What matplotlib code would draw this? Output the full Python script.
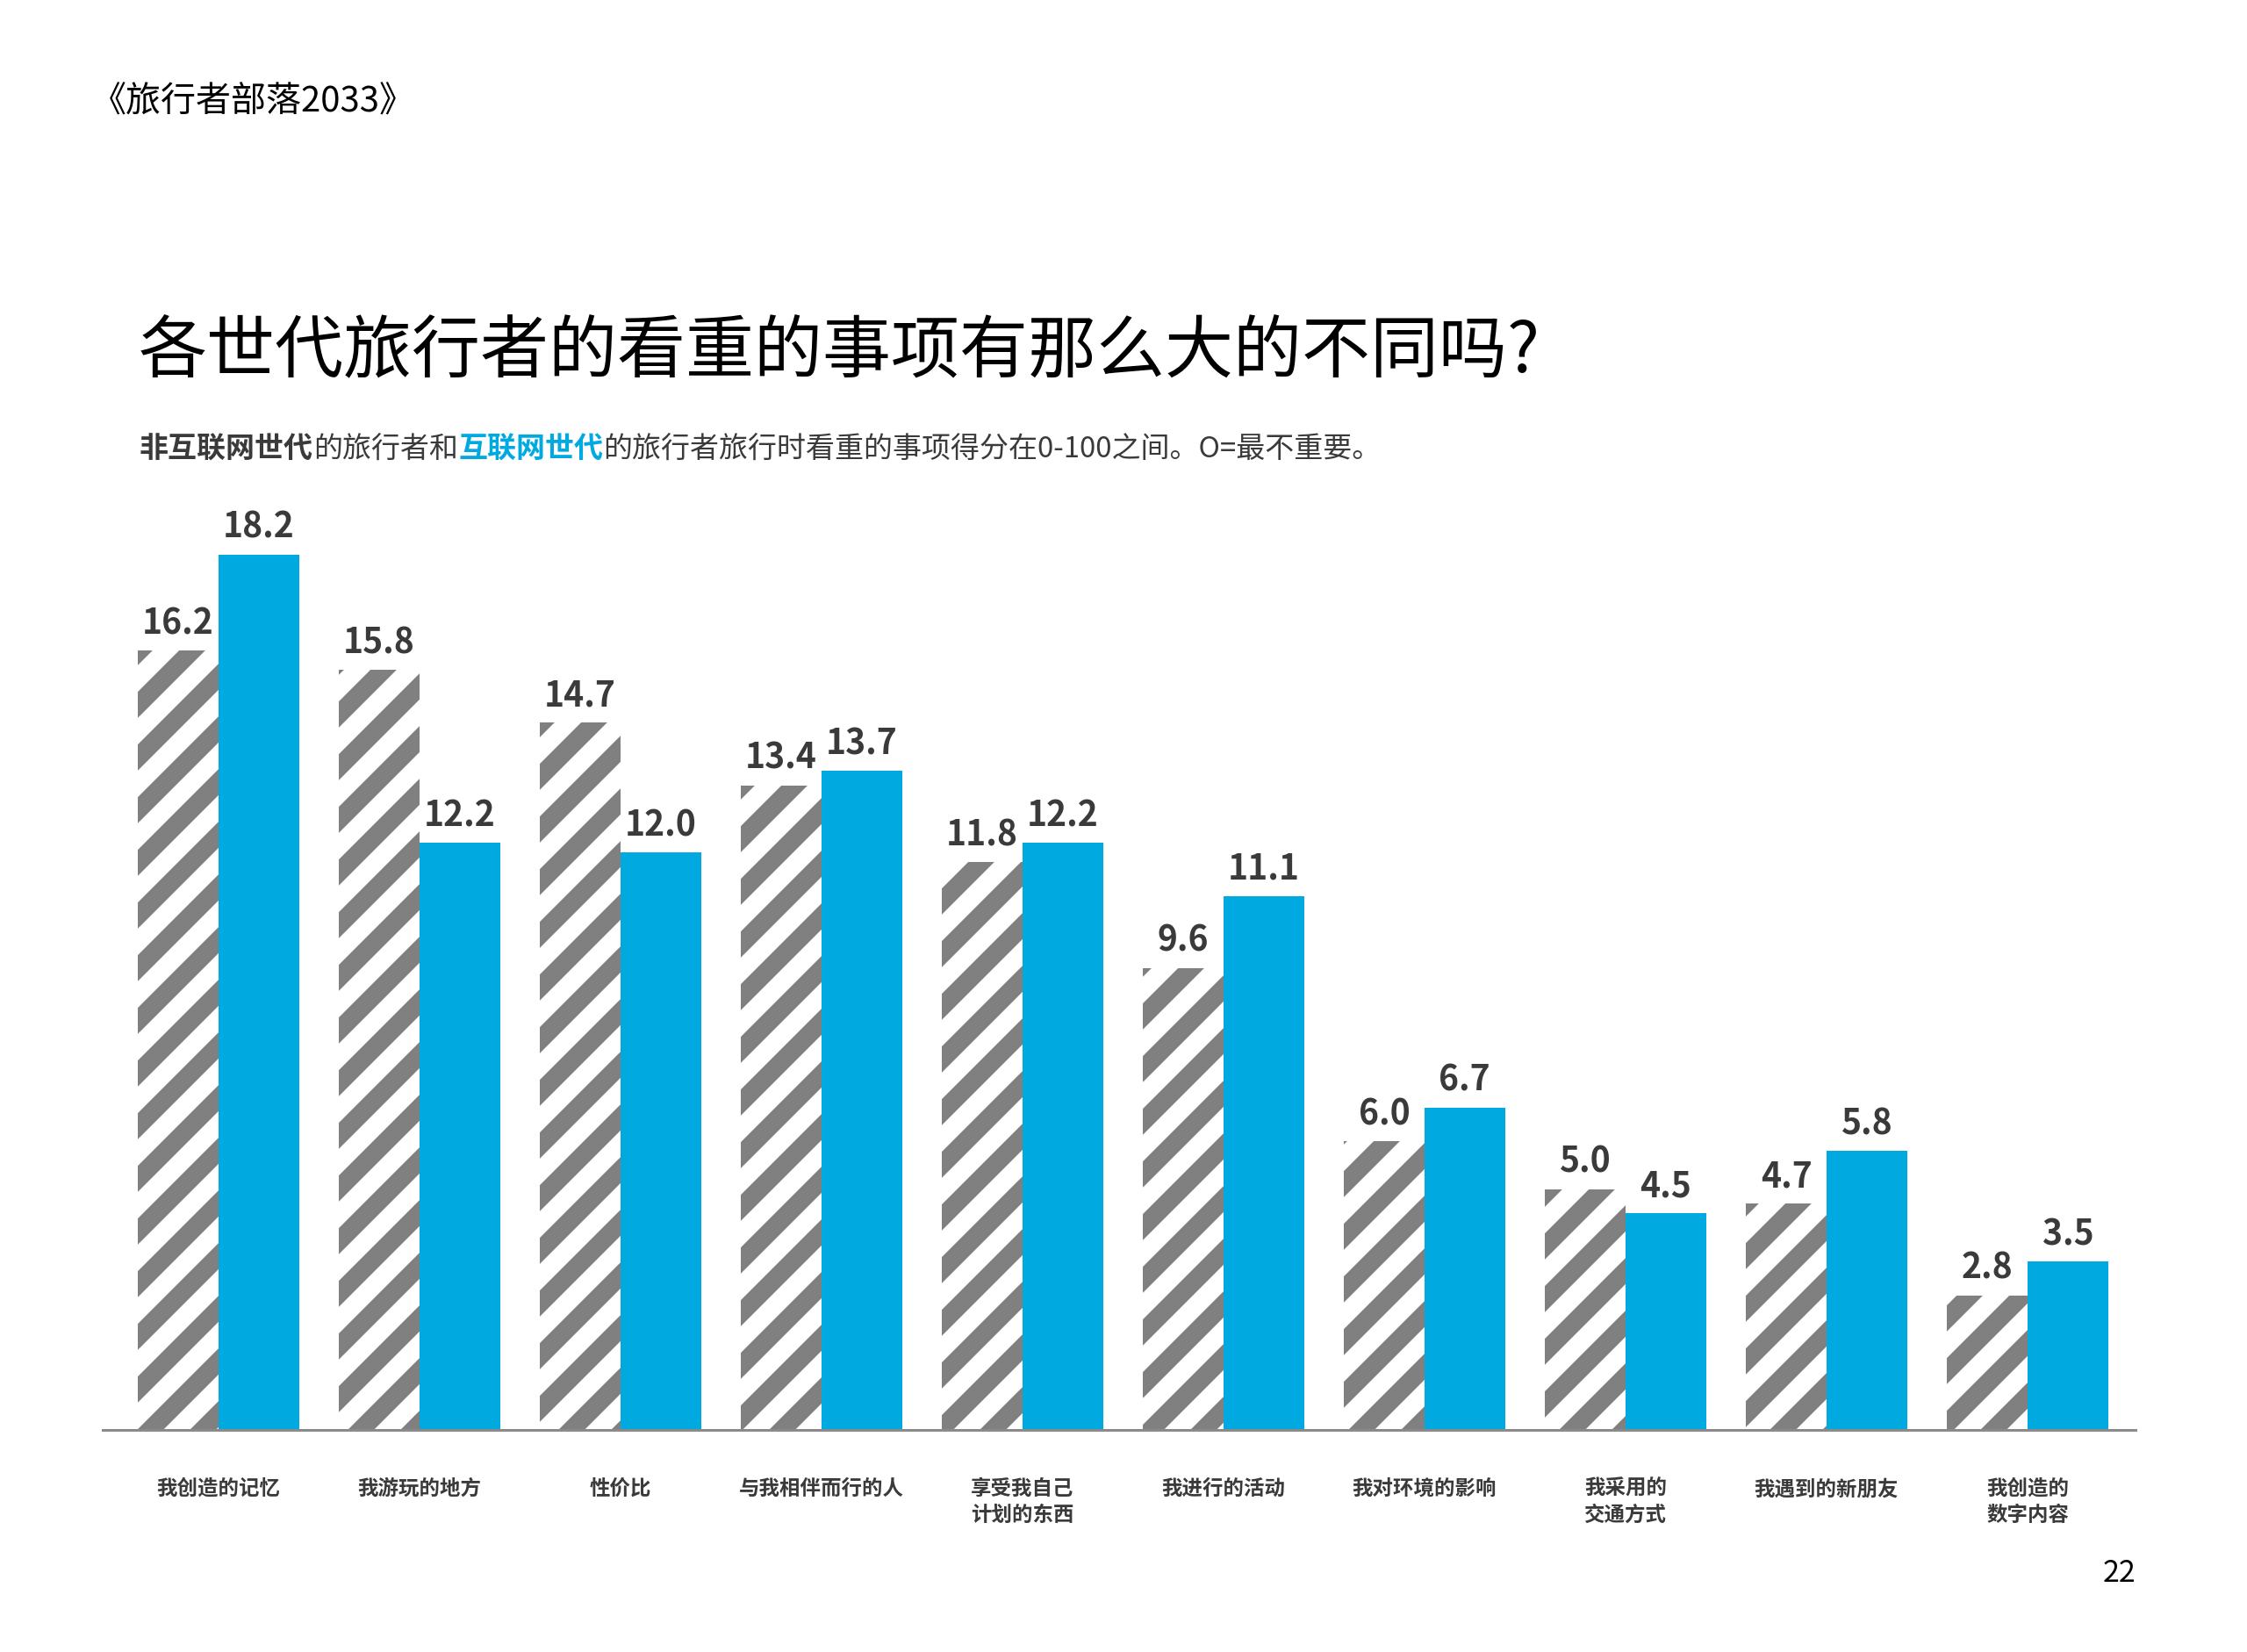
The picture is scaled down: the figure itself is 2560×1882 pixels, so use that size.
import matplotlib
matplotlib.use("Agg")
import matplotlib.pyplot as plt
import numpy as np

# data
categories = ['我创造的记忆', '我游玩的地方', '性价比', '与我相伴而行的人',
              '享受我自己\n计划的东西', '我进行的活动', '我对环境的影响',
              '我采用的\n交通方式', '我遇到的新朋友', '我创造的\n数字内容']
non_internet = [16.2, 15.8, 14.7, 13.4, 11.8, 9.6, 6.0, 5.0, 4.7, 2.8]
internet = [18.2, 12.2, 12.0, 13.7, 12.2, 11.1, 6.7, 4.5, 5.8, 3.5]

DPI = 360
W, H = 2560, 1883
BLUE = '#00a9e0'
GREY = '#808080'
DARK = '#3a3a3a'


def pt(px):
    # pixel size -> points at this dpi
    return px * 72 / DPI


plt.rcParams['font.family'] = ['Noto Sans CJK SC', 'DejaVu Sans']
plt.rcParams['hatch.linewidth'] = pt(21)

fig = plt.figure(figsize=(W / DPI, H / DPI), dpi=DPI)
fig.patch.set_facecolor('white')

ax = fig.add_axes([117 / W, (H - 1630) / H, (2433 - 117) / W, 1096 / H])

x = np.arange(len(categories))
bw = 0.40
b1 = ax.bar(x - bw / 2, non_internet, width=bw, facecolor='white',
            edgecolor=GREY, hatch='//', linewidth=0)
b2 = ax.bar(x + bw / 2, internet, width=bw, color=BLUE, linewidth=0)

for bars in (b1, b2):
    for rect in bars:
        h = rect.get_height()
        ax.annotate(f'{h:.1f}', (rect.get_x() + rect.get_width() / 2, h),
                    xytext=(0, pt(20)), textcoords='offset points',
                    ha='center', va='baseline', fontsize=pt(39),
                    fontweight='bold', color=DARK)

ax.set_xlim(-0.576, 9.537)
ax.set_ylim(0, 20)
ax.set_xticks(x)
ax.set_xticklabels(categories, fontsize=pt(23.5), fontweight='bold',
                   color=DARK, linespacing=1.3)
ax.tick_params(axis='x', length=0, pad=pt(54))
ax.set_yticks([])
for s in ('top', 'left', 'right'):
    ax.spines[s].set_visible(False)
ax.spines['bottom'].set_color('#8a8a8a')
ax.spines['bottom'].set_linewidth(pt(3))

# header, title, page number
fig.text(104 / W, 1 - 117 / H, '《旅行者部落2033》', fontsize=pt(40),
         color='black', va='center', ha='left')
fig.text(158 / W, 1 - 402 / H, '各世代旅行者的看重的事项有那么大的不同吗?',
         fontsize=pt(78), color='black', va='center', ha='left')
fig.text(2433 / W, 1 - 1793 / H, '22', fontsize=pt(34), color='black',
         va='center', ha='right')

# subtitle with mixed styling
parts = [('非互联网世代', DARK, 'bold'),
         ('的旅行者和', DARK, 'normal'),
         ('互联网世代', BLUE, 'bold'),
         ('的旅行者旅行时看重的事项得分在0-100之间。O=最不重要。', DARK, 'normal')]
r = fig.canvas.get_renderer()
xpos = 159 / W
for s, c, wgt in parts:
    t = fig.text(xpos, 1 - 512 / H, s, fontsize=pt(33), color=c,
                 fontweight=wgt, va='center', ha='left')
    bb = t.get_window_extent(renderer=r)
    xpos += bb.width / fig.bbox.width

fig.savefig('out.png', dpi=DPI, facecolor='white')
